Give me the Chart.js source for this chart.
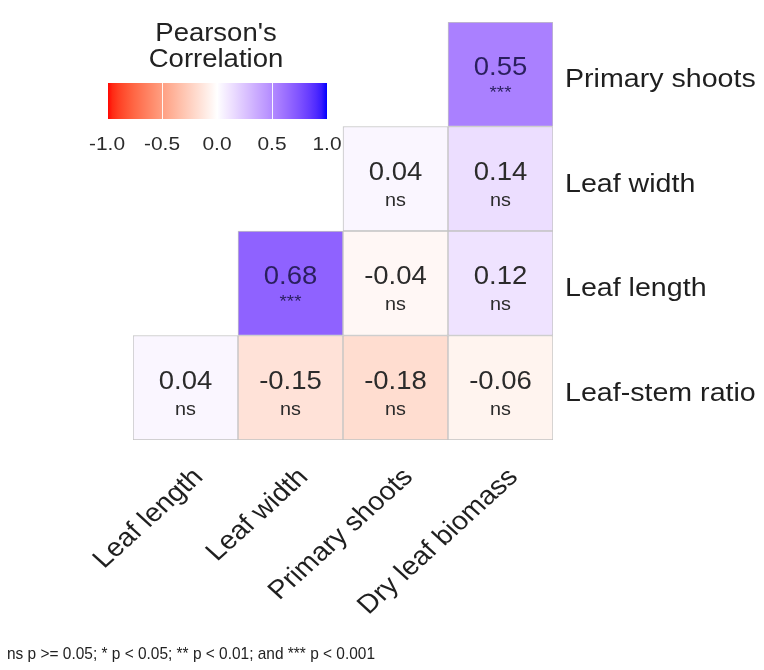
<!DOCTYPE html>
<html><head><meta charset="utf-8">
<script src="https://cdn.jsdelivr.net/npm/chart.js@4/dist/chart.umd.min.js"></script>
<style>html,body{margin:0;padding:0;background:#fff;}#wrap{width:764px;height:670px;position:relative;}</style>
</head><body><div id="wrap"><canvas id="c" width="764" height="670"></canvas></div>
<script>
// ---- data ----
const columns = ['Leaf length', 'Leaf width', 'Primary shoots', 'Dry leaf biomass'];
const rows = ['Leaf-stem ratio', 'Leaf length', 'Leaf width', 'Primary shoots']; // bottom to top
const rLeafStemRatio = [0.04, -0.15, -0.18, -0.06];
const rLeafLength = [null, 0.68, -0.04, 0.12];
const rLeafWidth = [null, null, 0.04, 0.14];
const rPrimaryShoots = [null, null, null, 0.55];
const pLeafStemRatio = ['ns', 'ns', 'ns', 'ns'];
const pLeafLength = [null, '***', 'ns', 'ns'];
const pLeafWidth = [null, null, 'ns', 'ns'];
const pPrimaryShoots = [null, null, null, '***'];
const legendTicks = [-1, -0.5, 0, 0.5, 1];
const legendTickLabels = ['-1.0', '-0.5', '0.0', '0.5', '1.0'];
const legendTitle = ["Pearson's", 'Correlation'];
const footnote = 'ns p >= 0.05; * p < 0.05; ** p < 0.01; and *** p < 0.001';

const corrRows = [rLeafStemRatio, rLeafLength, rLeafWidth, rPrimaryShoots];
const sigRows = [pLeafStemRatio, pLeafLength, pLeafWidth, pPrimaryShoots];

// ---- colour scale (Lab interpolation red - white - blue) ----
function lin(c){c/=255;return c<=0.04045?c/12.92:Math.pow((c+0.055)/1.055,2.4);}
function gam(c){c=c<=0.0031308?12.92*c:1.055*Math.pow(c,1/2.4)-0.055;return Math.max(0,Math.min(255,Math.round(c*255)));}
function toLab(rgb){
  const [r,g,b]=rgb.map(lin);
  let X=(0.4124*r+0.3576*g+0.1805*b)/0.95047, Y=0.2126*r+0.7152*g+0.0722*b, Z=(0.0193*r+0.1192*g+0.9505*b)/1.08883;
  const f=t=>t>0.008856?Math.cbrt(t):7.787*t+16/116;
  const fx=f(X),fy=f(Y),fz=f(Z);
  return [116*fy-16,500*(fx-fy),200*(fy-fz)];
}
function fromLab(lab){
  const fy=(lab[0]+16)/116, fx=fy+lab[1]/500, fz=fy-lab[2]/200;
  const fi=t=>{const t3=t*t*t;return t3>0.008856?t3:(t-16/116)/7.787;};
  const X=fi(fx)*0.95047, Y=fi(fy), Z=fi(fz)*1.08883;
  const r=3.2406*X-1.5372*Y-0.4986*Z, g=-0.9689*X+1.8758*Y+0.0415*Z, b=0.0557*X-0.2040*Y+1.0570*Z;
  return [gam(r),gam(g),gam(b)];
}
const LW=toLab([255,255,255]), LB=toLab([0,0,255]), LR=toLab([255,0,0]);
function corrColor(v){
  const end=v>=0?LB:LR, t=Math.min(1,Math.abs(v));
  const c=fromLab([0,1,2].map(i=>LW[i]+(end[i]-LW[i])*t));
  return 'rgb('+c.join(',')+')';
}

const SX = 1.1;
function txt(ctx,s,x,y,font,color,align,baseline,rot,sx){
  ctx.save();ctx.translate(x,y);ctx.scale(sx||1,1);if(rot)ctx.rotate(rot);
  ctx.font=font;ctx.fillStyle=color;ctx.textAlign=align;ctx.textBaseline=baseline;
  ctx.fillText(s,0,0);ctx.restore();
}
const FONT='"Liberation Sans", Arial, sans-serif';

const decor = {
  id:'decor',
  afterDatasetsDraw(chart){
    const ctx=chart.ctx, xs=chart.scales.x, ys=chart.scales.y;
    // cell labels
    corrRows.forEach((vals,ri)=>{
      vals.forEach((v,ci)=>{
        if(v==null)return;
        const cx=xs.getPixelForValue(ci), cy=ys.getPixelForValue(ri+0.5);
        const col=Math.abs(v)>0.4?'#2a1f5e':'#2b2b2b';
        txt(ctx,v.toFixed(2),cx,cy+1,'25px '+FONT,col,'center','alphabetic',0,SX);
        const s=sigRows[ri][ci];
        if(s==='ns') txt(ctx,s,cx,cy+27,'18px '+FONT,col,'center','alphabetic',0,SX);
        else txt(ctx,s,cx,cy+24,'17px '+FONT,col,'center','alphabetic',0,SX);
      });
    });
    // right row labels
    rows.forEach((r,ri)=>{
      const cy=ys.getPixelForValue(ri+0.5);
      txt(ctx,r,chart.chartArea.right+12,cy+13,'26px '+FONT,'#1f1f1f','left','alphabetic',0,SX);
    });
    // bottom rotated labels
    columns.forEach((c,ci)=>{
      const cx=xs.getPixelForValue(ci);
      txt(ctx,c,cx+3,chart.chartArea.bottom+24,'26px '+FONT,'#1f1f1f','right','top',-Math.PI/4,SX);
    });
    // legend
    const lx0=107, lx1=327, ly0=83, ly1=119;
    const px=v=>lx0+(v+1)/2*(lx1-lx0);
    const g=ctx.createLinearGradient(lx0,0,lx1,0);
    for(let i=0;i<=40;i++){const v=-1+i/20;g.addColorStop(i/40,corrColor(v));}
    ctx.fillStyle=g;ctx.fillRect(lx0+1,ly0,lx1-lx0-1,ly1-ly0);
    ctx.strokeStyle='rgba(255,255,255,0.9)';ctx.lineWidth=1;
    legendTicks.forEach(t=>{if(Math.abs(t)<1){const x=Math.round(px(t))+0.5;ctx.beginPath();ctx.moveTo(x,ly0);ctx.lineTo(x,ly1);ctx.stroke();}});
    legendTicks.forEach((t,i)=>txt(ctx,legendTickLabels[i],px(t),150,'19px '+FONT,'#2b2b2b','center','alphabetic',0,SX));
    txt(ctx,legendTitle[0],216,41,'25px '+FONT,'#222','center','alphabetic',0,SX);
    txt(ctx,legendTitle[1],216,67,'25px '+FONT,'#222','center','alphabetic',0,SX);
    // footnote
    ctx.save();ctx.font='17px '+FONT;const w=ctx.measureText(footnote).width;ctx.restore();
    txt(ctx,footnote,7,659,'17px '+FONT,'#222','left','alphabetic',0,368/w);
  }
};

new Chart(document.getElementById('c'),{
  type:'bar',
  data:{
    labels:columns,
    datasets:corrRows.map((vals,ri)=>({
      label:rows[ri],
      data:vals.map(v=>v==null?null:[ri,ri+1]),
      backgroundColor:vals.map(v=>v==null?'rgba(0,0,0,0)':corrColor(v)),
      borderColor:'#c3c3c3',borderWidth:1,borderSkipped:false,
      grouped:false,barPercentage:1,categoryPercentage:1
    }))
  },
  options:{
    responsive:false,animation:false,devicePixelRatio:1,
    layout:{padding:{left:133,right:211,top:22,bottom:230}},
    scales:{x:{display:false},y:{display:false,min:0,max:4}},
    plugins:{legend:{display:false},tooltip:{enabled:false}}
  },
  plugins:[decor]
});
</script></body></html>
